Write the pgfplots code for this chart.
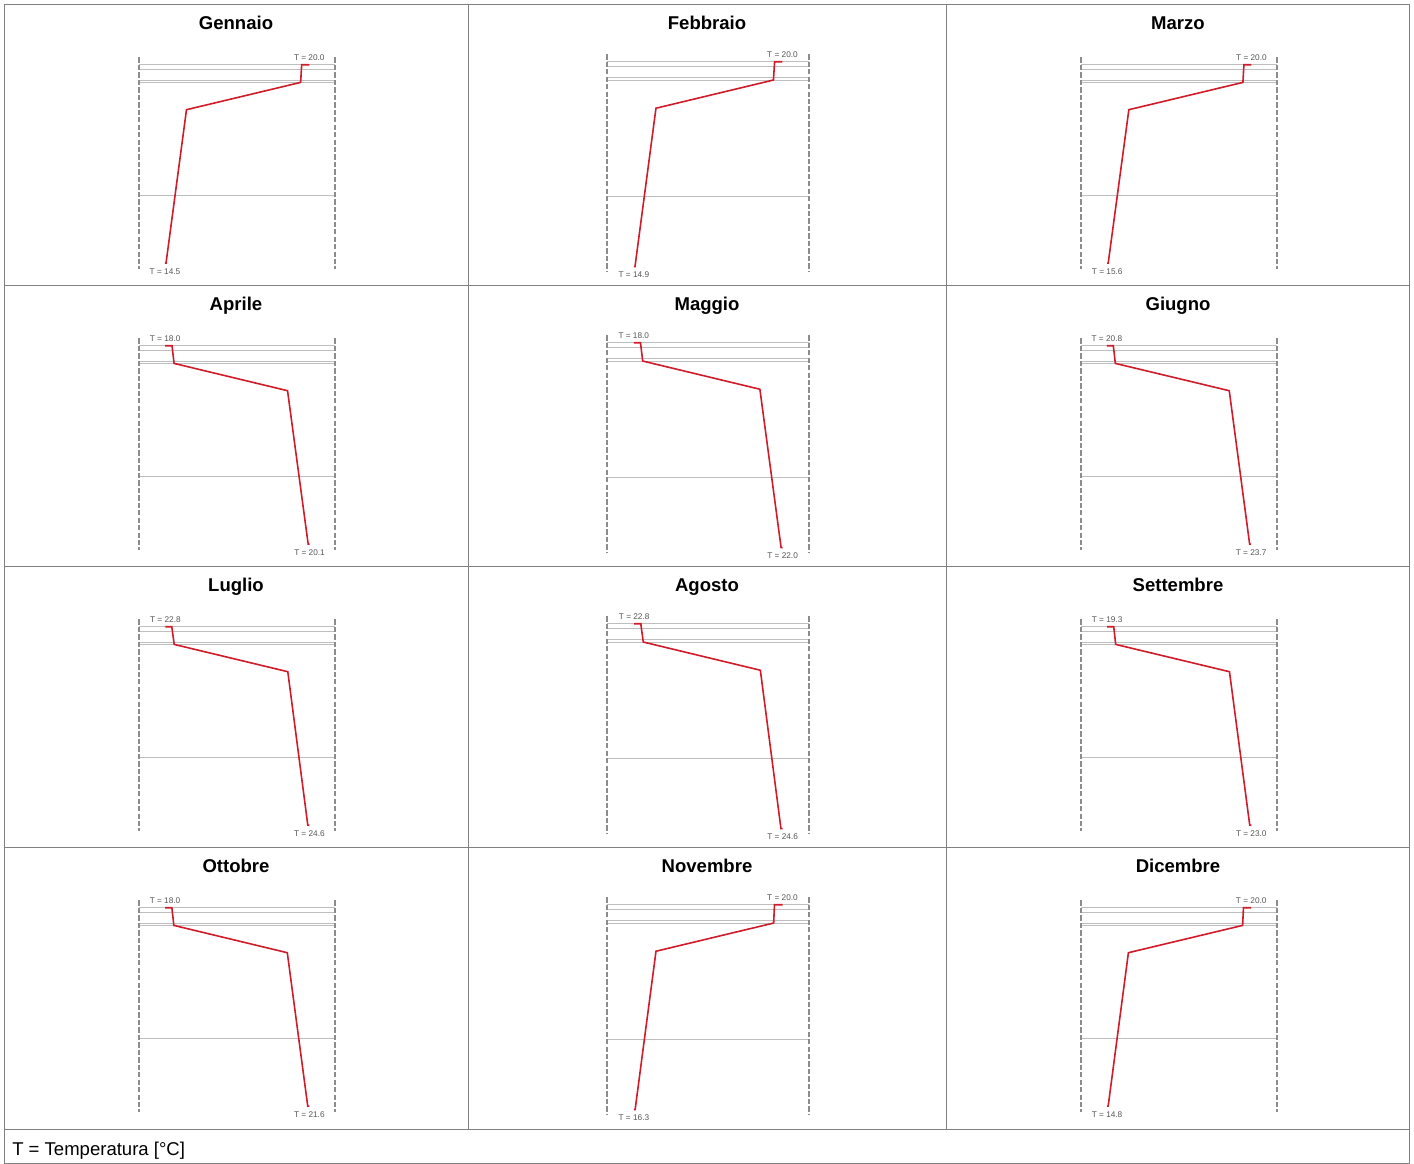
\documentclass[border=0pt]{standalone}
\usepackage{fontspec}
\setmainfont{Liberation Sans}
\usepackage{pgfplots}
\pgfplotsset{compat=1.18}
\definecolor{tline}{RGB}{208,28,42}
\definecolor{layerc}{RGB}{190,190,190}
\definecolor{framec}{RGB}{128,128,128}
\definecolor{dashc}{RGB}{140,140,140}
\definecolor{labc}{RGB}{85,85,85}
\tikzset{
  toplab/.style={anchor=south, font=\fontsize{6.2}{7}\selectfont, text=labc, inner sep=0.5pt, yshift=2pt},
  botlab/.style={anchor=north, font=\fontsize{6.2}{7}\selectfont, text=labc, inner sep=0.5pt, yshift=-3pt},
}
\pgfplotsset{
  panel/.style={
    scale only axis,
    y dir=reverse,
    ymin=-7.3, ymax=204,
    axis x line=none,
    axis y line=box,
    y axis line style={dashc, line width=0.8pt, dash pattern=on 4pt off 1.6pt},
    ytick={0,5,15.3,17.7,130.4},
    yticklabels={},
    major tick length=0pt,
    ymajorgrids,
    major grid style={layerc, line width=0.75pt},
    clip=false,
  },
  narrow/.style={panel, width=147pt, height=158.475pt},
  wide/.style={panel, width=151.5pt, height=163.7pt},
  tcurve/.style={tline, line width=1.2pt, mark=none},
}
\begin{document}
\begin{tikzpicture}[x=0.75pt,y=-0.75pt]
\useasboundingbox (0,0) rectangle (1414,1164);
% table frame
\draw[framec, line width=0.75pt] (4.5,4.5) rectangle (1409.5,1163.5);
\foreach \yy in {285,566,847,1129} \draw[framec, line width=0.75pt] (4.5,\yy) -- (1409.5,\yy);
\foreach \xx in {468,946} \draw[framec, line width=0.75pt] (\xx,4.5) -- (\xx,1129);
% titles
\foreach \tx/\ty/\tt in {236/29/Gennaio, 707/29/Febbraio, 1178/29/Marzo,
                          236/310/Aprile, 707/310/Maggio, 1178/310/Giugno,
                          236/591/Luglio, 707/591/Agosto, 1178/591/Settembre,
                          236/872/Ottobre, 707/872/Novembre, 1178/872/Dicembre}
  \node[anchor=base, inner sep=0pt, font=\fontsize{13.9}{16}\selectfont\bfseries] at (\tx,\ty) {\tt};
\node[anchor=base west, inner sep=0pt, font=\fontsize{13.9}{16}\selectfont] at (12,1155) {T = Temperatura [°C]};

% Row 1
\begin{axis}[narrow, at={(104.25pt,-43.05pt)}, anchor=north west, xmin=13.51, xmax=20.98]
\addplot[tcurve] coordinates {(20.0,0) (19.71,0) (19.67,17.7) (15.32,45) (14.54,198.4) (14.5,198.4)}
  node[pos=0, toplab] {T = 20.0} node[pos=1, botlab] {T = 14.5};
\end{axis}
\begin{axis}[wide, at={(455.25pt,-40.65pt)}, anchor=north west, xmin=13.98, xmax=20.91]
\addplot[tcurve] coordinates {(20.0,0) (19.73,0) (19.69,17.7) (15.66,45) (14.94,198.4) (14.9,198.4)}
  node[pos=0, toplab] {T = 20.0} node[pos=1, botlab] {T = 14.9};
\end{axis}
\begin{axis}[narrow, at={(810.75pt,-43.05pt)}, anchor=north west, xmin=14.80, xmax=20.78]
\addplot[tcurve] coordinates {(20.0,0) (19.77,0) (19.74,17.7) (16.26,45) (15.63,198.4) (15.6,198.4)}
  node[pos=0, toplab] {T = 20.0} node[pos=1, botlab] {T = 15.6};
\end{axis}

% Row 2
\begin{axis}[narrow, at={(104.25pt,-253.8pt)}, anchor=north west, xmin=17.62, xmax=20.47]
\addplot[tcurve] coordinates {(18.0,0) (18.10,0) (18.13,17.7) (19.78,45) (20.08,198.4) (20.1,198.4)}
  node[pos=0, toplab] {T = 18.0} node[pos=1, botlab] {T = 20.1};
\end{axis}
\begin{axis}[wide, at={(455.25pt,-251.4pt)}, anchor=north west, xmin=17.28, xmax=22.71]
\addplot[tcurve] coordinates {(18.0,0) (18.18,0) (18.24,17.7) (21.39,45) (21.96,198.4) (22.0,198.4)}
  node[pos=0, toplab] {T = 18.0} node[pos=1, botlab] {T = 22.0};
\end{axis}
\begin{axis}[narrow, at={(810.75pt,-253.8pt)}, anchor=north west, xmin=20.28, xmax=24.22]
\addplot[tcurve] coordinates {(20.8,0) (20.93,0) (20.97,17.7) (23.26,45) (23.67,198.4) (23.7,198.4)}
  node[pos=0, toplab] {T = 20.8} node[pos=1, botlab] {T = 23.7};
\end{axis}

% Row 3
\begin{axis}[narrow, at={(104.25pt,-464.55pt)}, anchor=north west, xmin=22.47, xmax=24.92]
\addplot[tcurve] coordinates {(22.8,0) (22.88,0) (22.91,17.7) (24.33,45) (24.58,198.4) (24.6,198.4)}
  node[pos=0, toplab] {T = 22.8} node[pos=1, botlab] {T = 24.6};
\end{axis}
\begin{axis}[wide, at={(455.25pt,-462.15pt)}, anchor=north west, xmin=22.47, xmax=24.92]
\addplot[tcurve] coordinates {(22.8,0) (22.88,0) (22.91,17.7) (24.33,45) (24.58,198.4) (24.6,198.4)}
  node[pos=0, toplab] {T = 22.8} node[pos=1, botlab] {T = 24.6};
\end{axis}
\begin{axis}[narrow, at={(810.75pt,-464.55pt)}, anchor=north west, xmin=18.63, xmax=23.66]
\addplot[tcurve] coordinates {(19.3,0) (19.47,0) (19.52,17.7) (22.44,45) (22.96,198.4) (23.0,198.4)}
  node[pos=0, toplab] {T = 19.3} node[pos=1, botlab] {T = 23.0};
\end{axis}

% Row 4
\begin{axis}[narrow, at={(104.25pt,-675.3pt)}, anchor=north west, xmin=17.35, xmax=22.24]
\addplot[tcurve] coordinates {(18.0,0) (18.17,0) (18.22,17.7) (21.05,45) (21.56,198.4) (21.6,198.4)}
  node[pos=0, toplab] {T = 18.0} node[pos=1, botlab] {T = 21.6};
\end{axis}
\begin{axis}[wide, at={(455.25pt,-672.9pt)}, anchor=north west, xmin=15.63, xmax=20.66]
\addplot[tcurve] coordinates {(20.0,0) (19.80,0) (19.78,17.7) (16.85,45) (16.33,198.4) (16.3,198.4)}
  node[pos=0, toplab] {T = 20.0} node[pos=1, botlab] {T = 16.3};
\end{axis}
\begin{axis}[narrow, at={(810.75pt,-675.3pt)}, anchor=north west, xmin=13.86, xmax=20.93]
\addplot[tcurve] coordinates {(20.0,0) (19.72,0) (19.69,17.7) (15.57,45) (14.84,198.4) (14.8,198.4)}
  node[pos=0, toplab] {T = 20.0} node[pos=1, botlab] {T = 14.8};
\end{axis}
\end{tikzpicture}
\end{document}
